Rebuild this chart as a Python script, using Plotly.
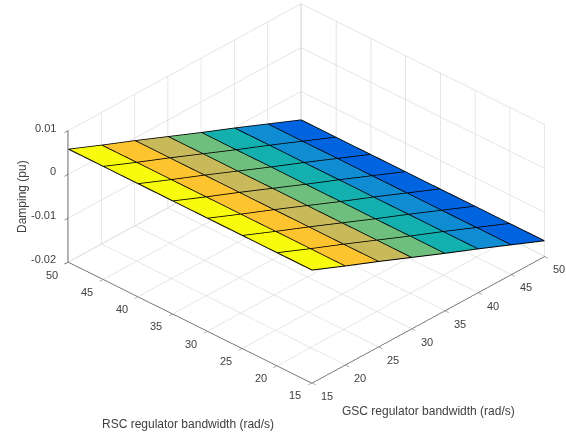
import numpy as np
import plotly.graph_objects as go

gsc = [15, 20, 25, 30, 35, 40, 45, 50]
rsc = [15, 20, 25, 30, 35, 40, 45, 50]
# damping per GSC bandwidth (the surface barely changes with RSC bandwidth)
damping_by_gsc = [0.0057, 0.0025, -0.0006, -0.0038, -0.0070, -0.0101, -0.0133, -0.0165]
strip_colors = ["#f9fb0e", "#fec430", "#c8ba5a", "#6ebe7d", "#14afaf", "#0f8cd2", "#0064e1"]
z_ticks = [-0.02, -0.01, 0, 0.01]
z_labels = ["-0.02", "-0.01", "0", "0.01"]
x_title = "GSC regulator bandwidth (rad/s)"
y_title = "RSC regulator bandwidth (rad/s)"
z_title = "Damping (pu)"

nx, ny = len(gsc), len(rsc)
vx, vy, vz, ii, jj, kk, fc = [], [], [], [], [], [], []
for a in range(nx):
    for b in range(ny):
        vx.append(gsc[a]); vy.append(rsc[b]); vz.append(damping_by_gsc[a])
for a in range(nx - 1):
    for b in range(ny - 1):
        p = a * ny + b
        q = (a + 1) * ny + b
        ii += [p, p]; jj += [q, q + 1]; kk += [q + 1, p + 1]
        fc += [strip_colors[a]] * 2

# cell edges are lifted a hair so they stay in front of the faces
lift = 0.00006
lx, ly, lz = [], [], []
for a in range(nx):
    for b in range(ny):
        lx.append(gsc[a]); ly.append(rsc[b]); lz.append(damping_by_gsc[a] + lift)
    lx.append(None); ly.append(None); lz.append(None)
for b in range(ny):
    for a in range(nx):
        lx.append(gsc[a]); ly.append(rsc[b]); lz.append(damping_by_gsc[a] + lift)
    lx.append(None); ly.append(None); lz.append(None)

fig = go.Figure()
fig.add_trace(go.Mesh3d(x=vx, y=vy, z=vz, i=ii, j=jj, k=kk, facecolor=fc, flatshading=True,
                        lighting=dict(ambient=1, diffuse=0, specular=0, fresnel=0, roughness=1),
                        hoverinfo="skip", showscale=False))
fig.add_trace(go.Scatter3d(x=lx, y=ly, z=lz, mode="lines", line=dict(color="black", width=2),
                           hoverinfo="skip", showlegend=False))

def axis(**kw):
    d = dict(title=dict(text=""), showgrid=True, gridcolor="#dcdcdc", gridwidth=1.5, showline=True,
             linecolor="#5a5a5a", linewidth=1.5, ticks="outside", ticklen=5, tickcolor="#5a5a5a",
             showticklabels=False, showbackground=True, backgroundcolor="white",
             zeroline=False, showspikes=False, autorange=False)
    d.update(kw)
    return d

# camera
r = np.array([234., -245., 0.]) / 338.8
f = np.array([245., 234., 0.]) / 338.8
el = np.arcsin(0.52)
u = np.sin(el) * f + np.array([0, 0, np.cos(el)])
back = -np.cos(el) * f + np.array([0, 0, np.sin(el)])
k_px = 217.0
c = (-23.5 * r - 23.5 * u) / k_px
eye = c + back * 2.0

tick_font = dict(family="Liberation Sans", size=11, color="#404040")
title_font = dict(family="Liberation Sans", size=12, color="#404040")

tick_notes = []
for v in gsc:
    tick_notes.append(dict(x=v, y=rsc[0], z=z_ticks[0], text=str(v), showarrow=False, font=tick_font,
                           xanchor="center", yanchor="middle", xshift=15, yshift=-13))
for v in rsc:
    tick_notes.append(dict(x=gsc[0], y=v, z=z_ticks[0], text=str(v), showarrow=False, font=tick_font,
                           xanchor="center", yanchor="middle", xshift=-16.5, yshift=-12.5))
for v, t in zip(z_ticks, z_labels):
    tick_notes.append(dict(x=gsc[0], y=rsc[-1], z=v, text=t, showarrow=False, font=tick_font,
                           xanchor="right", yanchor="middle", xshift=-11, yshift=3))

# ranges reach just past the outermost grid lines so the surface's border is not clipped
pad = 0.05
fig.update_layout(
    width=566, height=434, margin=dict(l=0, r=0, t=0, b=0), showlegend=False,
    paper_bgcolor="white",
    scene=dict(
        domain=dict(x=[0, 1], y=[0, 1]),
        xaxis=axis(range=[15 - pad, 50 + pad], tickmode="array", tickvals=gsc),
        yaxis=axis(range=[15 - pad, 50 + pad], tickmode="array", tickvals=rsc),
        zaxis=axis(range=[-0.02, 0.01], tickmode="array", tickvals=z_ticks,
                   linecolor="#262626", tickcolor="#262626"),
        aspectmode="manual", aspectratio=dict(x=1.555, y=1.555, z=0.709),
        camera=dict(projection=dict(type="orthographic"), eye=dict(x=eye[0], y=eye[1], z=eye[2]),
                    center=dict(x=c[0], y=c[1], z=c[2]), up=dict(x=0, y=0, z=1)),
        annotations=tick_notes,
    ),
    annotations=[
        dict(text=y_title, x=188/566, y=1-424/434, xref="paper", yref="paper", showarrow=False,
             xanchor="center", yanchor="middle", font=title_font),
        dict(text=x_title, x=428/566, y=1-411/434, xref="paper", yref="paper", showarrow=False,
             xanchor="center", yanchor="middle", font=title_font),
        dict(text=z_title, x=22/566, y=1-197/434, xref="paper", yref="paper", showarrow=False,
             xanchor="center", yanchor="middle", textangle=-90, font=title_font),
    ],
)
fig.write_html("out.html", config=dict(displayModeBar=False),
               post_script="document.body.style.margin='0';document.body.style.overflow='hidden';")
